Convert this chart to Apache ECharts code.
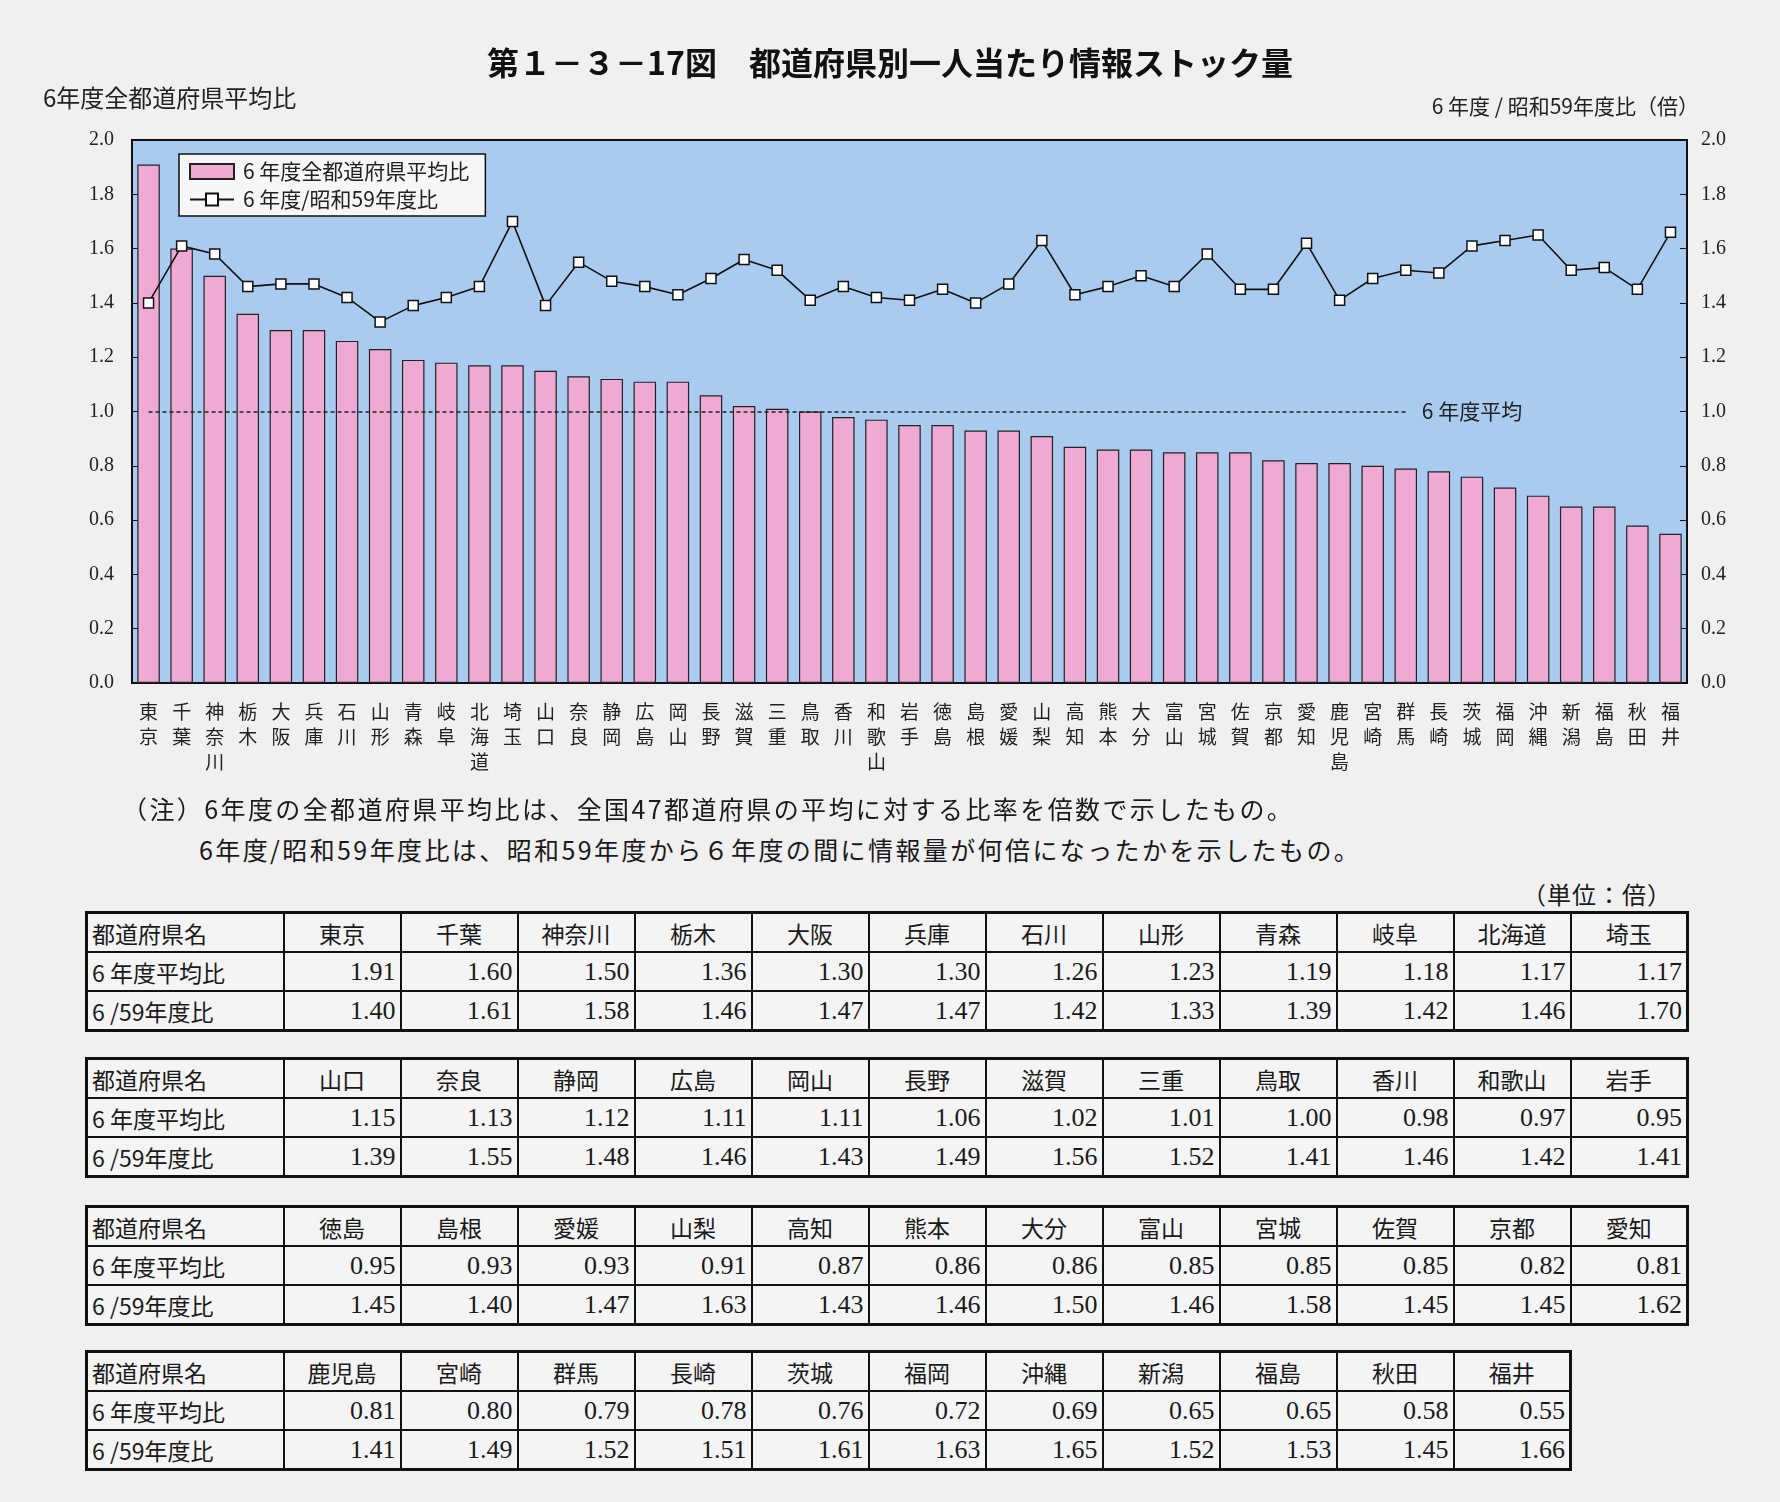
<!DOCTYPE html>
<html><head><meta charset="utf-8">
<script src="https://cdn.jsdelivr.net/npm/echarts@6/dist/echarts.min.js"></script>
<style>
html,body{margin:0;padding:0;background:#f0f0f0;}
body{width:1780px;height:1502px;position:relative;overflow:hidden;font-family:"Noto Sans CJK JP",sans-serif;color:#1a1a1a;}
#chart{position:absolute;left:0;top:0;width:1780px;height:800px;}
.note{position:absolute;font-size:25px;letter-spacing:2.4px;white-space:nowrap;}
table.t{position:absolute;left:85px;border-collapse:collapse;border:3px solid #111;background:#f4f4f4;table-layout:fixed;}
table.t td{border:2px solid #111;height:37px;padding:0 4px;font-size:23px;overflow:hidden;white-space:nowrap;}
table.t td.h{text-align:left;}
table.t td.n{text-align:center;}
table.t td.v{text-align:right;font-family:"Liberation Serif",serif;font-size:26px;}
</style></head>
<body>
<div id="chart"></div>
<div class="note" style="left:122px;top:790px;">（注）6年度の全都道府県平均比は、全国47都道府県の平均に対する比率を倍数で示したもの。</div>
<div class="note" style="left:199px;top:831px;">6年度/昭和59年度比は、昭和59年度から６年度の間に情報量が何倍になったかを示したもの。</div>
<div class="note" style="left:1522px;top:876px;font-size:24px;letter-spacing:1px;">（単位：倍）</div>
<div id="tables"></div>
<script>
var categories = ["東京","千葉","神奈川","栃木","大阪","兵庫","石川","山形","青森","岐阜","北海道","埼玉",
"山口","奈良","静岡","広島","岡山","長野","滋賀","三重","鳥取","香川","和歌山","岩手",
"徳島","島根","愛媛","山梨","高知","熊本","大分","富山","宮城","佐賀","京都","愛知",
"鹿児島","宮崎","群馬","長崎","茨城","福岡","沖縄","新潟","福島","秋田","福井"];
var avgRatio = [1.91,1.60,1.50,1.36,1.30,1.30,1.26,1.23,1.19,1.18,1.17,1.17,
1.15,1.13,1.12,1.11,1.11,1.06,1.02,1.01,1.00,0.98,0.97,0.95,
0.95,0.93,0.93,0.91,0.87,0.86,0.86,0.85,0.85,0.85,0.82,0.81,
0.81,0.80,0.79,0.78,0.76,0.72,0.69,0.65,0.65,0.58,0.55];
var growthRatio = [1.40,1.61,1.58,1.46,1.47,1.47,1.42,1.33,1.39,1.42,1.46,1.70,
1.39,1.55,1.48,1.46,1.43,1.49,1.56,1.52,1.41,1.46,1.42,1.41,
1.45,1.40,1.47,1.63,1.43,1.46,1.50,1.46,1.58,1.45,1.45,1.62,
1.41,1.49,1.52,1.51,1.61,1.63,1.65,1.52,1.53,1.45,1.66];
var rowLabels = ["都道府県名","6 年度平均比","6 /59年度比"];
var seriesNames = ["6 年度全都道府県平均比","6 年度/昭和59年度比"];
var avgLineLabel = "6 年度平均";

var chart = echarts.init(document.getElementById('chart'));
var jp = '"Noto Sans CJK JP", sans-serif';
var serif = '"Liberation Serif", serif';
chart.setOption({
  backgroundColor: '#f0f0f0',
  title: [
    {text: '第１－３－17図　都道府県別一人当たり情報ストック量', left: 'center', top: 42,
     textStyle: {fontFamily: jp, fontSize: 32, fontWeight: 'bold', color: '#111'}},
    {text: '6年度全都道府県平均比', left: 38, top: 81,
     textStyle: {fontFamily: jp, fontSize: 24, fontWeight: 'normal', color: '#222'}},
    {text: '6 年度 / 昭和59年度比（倍）', right: 76, top: 91,
     textStyle: {fontFamily: jp, fontSize: 21, fontWeight: 'normal', color: '#222'}}
  ],
  legend: {
    orient: 'vertical', left: 179, top: 154,
    backgroundColor: '#f6f6f6', borderColor: '#111', borderWidth: 1.5,
    padding: [7, 16, 6, 10], itemGap: 7, itemWidth: 44, itemHeight: 15,
    textStyle: {fontFamily: jp, fontSize: 21, color: '#222', padding: [0, 0, 0, 4]},
    data: [{name: seriesNames[0], icon: 'rect'}, {name: seriesNames[1]}]
  },
  grid: {left: 132, right: 93, top: 140, bottom: 117, show: true,
         backgroundColor: '#a9cbef', borderColor: '#111', borderWidth: 2},
  xAxis: {
    type: 'category', data: categories,
    axisLine: {lineStyle: {color: '#111', width: 2}},
    axisTick: {show: false},
    axisLabel: {interval: 0, margin: 16, fontFamily: jp, fontSize: 19, lineHeight: 25, color: '#222', verticalAlign: 'top',
      formatter: function (v) { return v.split('').join('\n'); }}
  },
  yAxis: [
    {type: 'value', min: 0, max: 2, interval: 0.2,
     axisLine: {show: true, lineStyle: {color: '#111', width: 2}},
     axisTick: {show: true, inside: true, length: 7, lineStyle: {color: '#111'}},
     splitLine: {show: false},
     axisLabel: {margin: 18, fontFamily: serif, fontSize: 20, color: '#222', formatter: function (v) { return v.toFixed(1); }}},
    {type: 'value', min: 0, max: 2, interval: 0.2, position: 'right',
     axisLine: {show: true, lineStyle: {color: '#111', width: 2}},
     axisTick: {show: true, inside: true, length: 7, lineStyle: {color: '#111'}},
     splitLine: {show: false},
     axisLabel: {margin: 14, fontFamily: serif, fontSize: 20, color: '#222', formatter: function (v) { return v.toFixed(1); }}}
  ],
  series: [
    {name: seriesNames[0], type: 'bar', data: avgRatio, barWidth: '68%',
     itemStyle: {color: '#eeaad2', borderColor: '#222', borderWidth: 1.2},
     markLine: {silent: true, symbol: 'none',
       lineStyle: {type: [4, 3], color: '#222', width: 1.5},
       label: {show: true, position: 'end', formatter: avgLineLabel, fontFamily: jp, fontSize: 21, color: '#222', distance: 16},
       data: [[{coord: [0, 1.0]}, {coord: [38, 1.0]}]]}},
    {name: seriesNames[1], type: 'line', yAxisIndex: 1, data: growthRatio,
     symbol: 'rect', symbolSize: 10, showAllSymbol: true,
     lineStyle: {color: '#111', width: 1.6},
     itemStyle: {color: '#ffffff', borderColor: '#111', borderWidth: 1.5}}
  ]
});

// tables
var tops = [911, 1057, 1205, 1350];
var html = '';
for (var g = 0; g < 4; g++) {
  var s = g * 12, e = Math.min(s + 12, categories.length);
  var n = e - s;
  var w = 197 + n * 117;
  html += '<table class="t" style="top:' + tops[g] + 'px;width:' + w + 'px"><colgroup><col style="width:197px">';
  for (var i = s; i < e; i++) html += '<col style="width:117px">';
  html += '</colgroup><tr><td class="h">' + rowLabels[0] + '</td>';
  for (var i = s; i < e; i++) html += '<td class="n">' + categories[i] + '</td>';
  html += '</tr><tr><td class="h">' + rowLabels[1] + '</td>';
  for (var i = s; i < e; i++) html += '<td class="v">' + avgRatio[i].toFixed(2) + '</td>';
  html += '</tr><tr><td class="h">' + rowLabels[2] + '</td>';
  for (var i = s; i < e; i++) html += '<td class="v">' + growthRatio[i].toFixed(2) + '</td>';
  html += '</tr></table>';
}
document.getElementById('tables').innerHTML = html;
</script>
</body></html>
